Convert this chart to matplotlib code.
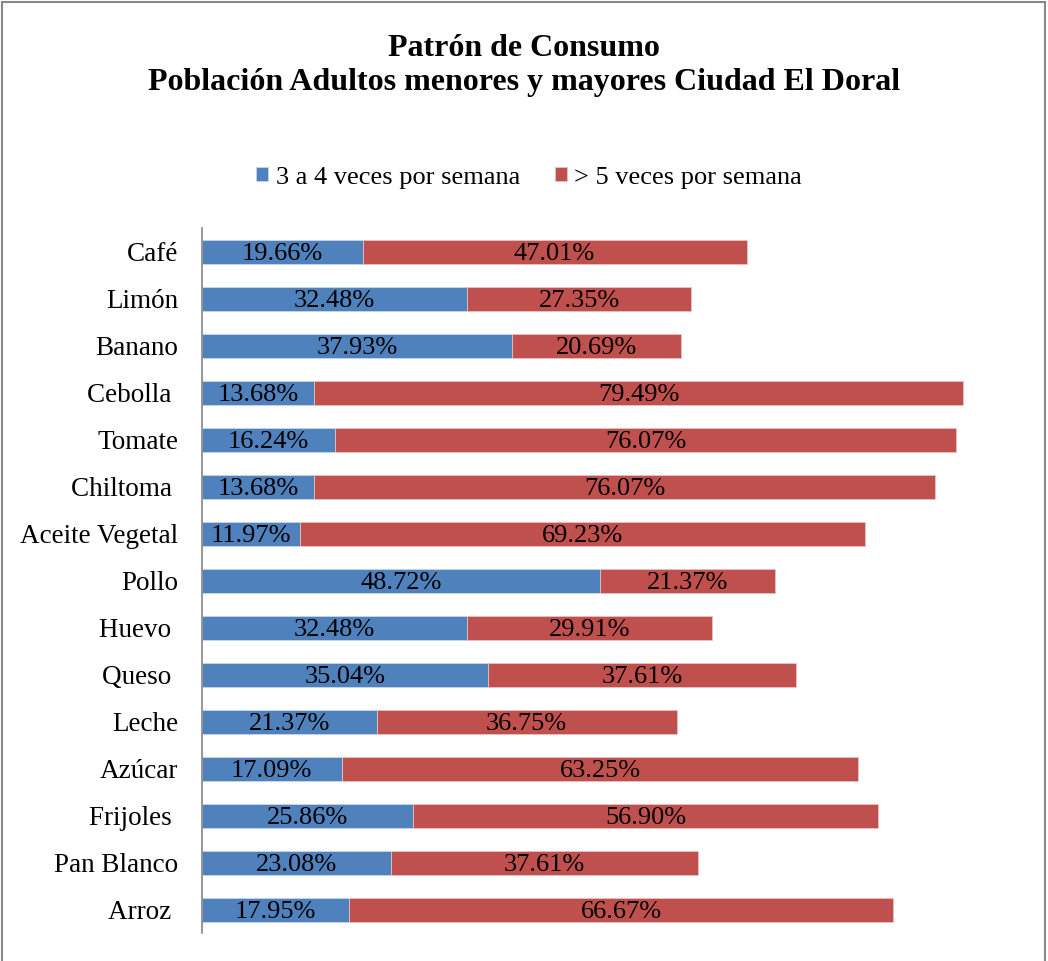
import matplotlib.pyplot as plt
from matplotlib.patches import Rectangle

# datos (de arriba hacia abajo)
categorias = ['Café', 'Limón', 'Banano', 'Cebolla ', 'Tomate', 'Chiltoma ',
              'Aceite Vegetal', 'Pollo', 'Huevo ', 'Queso ', 'Leche', 'Azúcar',
              'Frijoles ', 'Pan Blanco', 'Arroz ']
tres_a_cuatro = [19.66, 32.48, 37.93, 13.68, 16.24, 13.68, 11.97, 48.72, 32.48,
                 35.04, 21.37, 17.09, 25.86, 23.08, 17.95]
mas_de_cinco = [47.01, 27.35, 20.69, 79.49, 76.07, 76.07, 69.23, 21.37, 29.91,
                37.61, 36.75, 63.25, 56.90, 37.61, 66.67]
series = ['3 a 4 veces por semana', '> 5 veces por semana']

plt.rcParams['font.family'] = ['Liberation Serif', 'DejaVu Serif']

azul = '#4F81BD'
rojo = '#C0504D'

fig = plt.figure(figsize=(10.48, 9.61), dpi=100)
ax = fig.add_axes([0.1927, 0.0291, 0.7796, 0.7336])

y = list(range(len(categorias)))
b1 = ax.barh(y, tres_a_cuatro, height=0.51, color=azul, edgecolor='#c9d7ea',
             linewidth=0.6, label=series[0])
b2 = ax.barh(y, mas_de_cinco, left=tres_a_cuatro, height=0.51, color=rojo,
             edgecolor='#e5c2c1', linewidth=0.6, label=series[1])

for bars, vals in [(b1, tres_a_cuatro), (b2, mas_de_cinco)]:
    for bar, v in zip(bars, vals):
        ax.text(bar.get_x() + bar.get_width() / 2, bar.get_y() + bar.get_height() / 2,
                '%.2f%%' % v, ha='center', va='center_baseline', fontsize=19, color='black')

ax.set_xlim(0, 100)
ax.set_ylim(len(categorias) - 0.5, -0.5)
ax.set_yticks(y)
ax.set_yticklabels(categorias, fontsize=19.5)
ax.tick_params(axis='y', length=0, pad=17)
ax.set_xticks([])
for s in ['top', 'right', 'bottom']:
    ax.spines[s].set_visible(False)
ax.spines['left'].set_color('#868686')
ax.spines['left'].set_linewidth(1.2)

fig.text(0.5, 0.932, 'Patrón de Consumo\nPoblación Adultos menores y mayores Ciudad El Doral',
         ha='center', va='center', fontsize=23, fontweight='bold', linespacing=1.2)

fig.legend(handles=[b1, b2], labels=series, loc='center', bbox_to_anchor=(0.505, 0.815),
           ncol=2, frameon=False, fontsize=19, handlelength=0.45, handleheight=0.45,
           handletextpad=0.3, columnspacing=1.3)

# borde del area del grafico
fig.patches.append(Rectangle((0.002, -0.01), 0.995, 1.008, transform=fig.transFigure,
                             fill=False, edgecolor='#888888', linewidth=1.5))

fig.savefig('out.png', dpi=100)
